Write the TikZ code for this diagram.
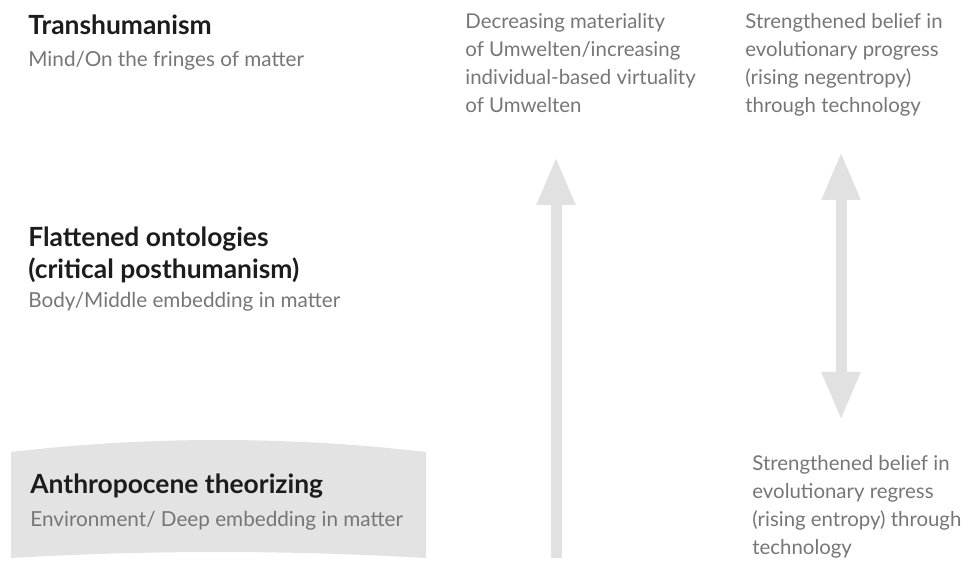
\documentclass[tikz,border=0pt]{standalone}
\usepackage{fontspec}
\setmainfont{Lato}
\usetikzlibrary{positioning, arrows.meta, calc}

\definecolor{bandgray}{HTML}{E3E3E3}
\definecolor{arrowgray}{HTML}{E1E1E1}
\definecolor{titleblack}{HTML}{1C1C1C}
\definecolor{subgray}{HTML}{767676}

\tikzset{
  title/.style={inner sep=0pt, font=\fontsize{13.2}{16}\selectfont\bfseries, text=titleblack, align=left},
  subtitle/.style={inner sep=0pt, font=\fontsize{10.35}{13}\selectfont, text=subgray},
  note/.style={inner sep=0pt, font=\fontsize{10.2}{14}\selectfont, text=subgray, align=left},
  bigarrow/.style={line width=5.5pt, draw=arrowgray, arrows={-Triangle[width=18pt,length=24pt]}}
}

\begin{document}
\begin{tikzpicture}[x=0.5pt, y=-0.5pt]
                  \useasboundingbox (0,0) rectangle (974,566);

                  % Band
                  \fill[bandgray] (11,452) .. controls (149,436) and (288,436) .. (426,452) -- (426,558)
                        .. controls (288,550) and (149,550) .. (11,558) -- cycle;

                  % Nodes
                  \node[title, anchor=base west] (trans) at (28,35) {Transhumanism};
                  \node[subtitle, anchor=base west] (transsub) at (28,67) {Mind/On the fringes of matter};
                  \node[title, anchor=north west] (flat) at (28,226) {Flattened ontologies\\(critical posthumanism)};
                  \node[subtitle, anchor=base west] (flatsub) at (28,308) {Body/Middle embedding in matter};
                  \node[title, anchor=base west] (anthro) at (30,493) {Anthropocene theorizing};
                  \node[subtitle, anchor=base west] (anthrosub) at (30,526) {Environment/ Deep embedding in matter};

                  \node[note, anchor=north west] (virtual) at (465,13) {Decreasing materiality\\of Umwelten/increasing\\individual-based virtuality\\of Umwelten};
                  \node[note, anchor=north west] (progress) at (745,13) {Strengthened belief in\\evolutionary progress\\(rising negentropy)\\through technology};
                  \node[note, anchor=north west] (regress) at (752,455) {Strengthened belief in\\evolutionary regress\\(rising entropy) through\\technology};

                  \coordinate (vbase) at (556,558);
                  \coordinate (vtip) at (556,157);
                  \coordinate (ptip) at (841,152);
                  \coordinate (rtip) at (841,420);

                  % Arrows
                  \draw[bigarrow] (vbase) -- (vtip);
                  \draw[bigarrow, arrows={Triangle[width=18pt,length=24pt]-Triangle[width=18pt,length=24pt]}] (ptip) -- (rtip);
              \end{tikzpicture}
\end{document}
